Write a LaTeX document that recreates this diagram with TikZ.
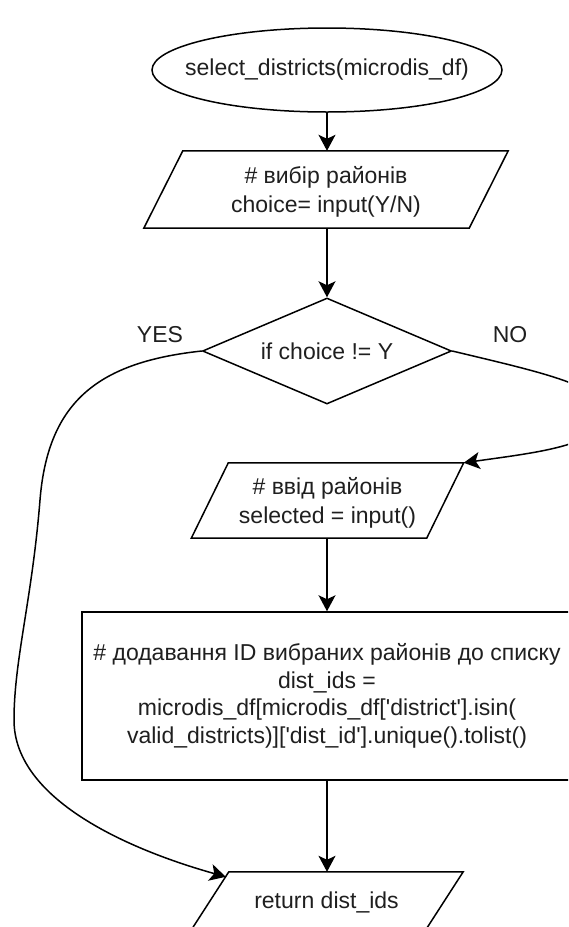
\documentclass[tikz,border=0pt]{standalone}
\usepackage{fontspec}
\setmainfont{Liberation Sans}
\usetikzlibrary{shapes.geometric,arrows.meta}
% slanted input/output frame drawn around a named rectangular node
\newcommand\ioframe[2]{%
  \draw[frame] ([xshift=#2]#1.north west) -- ([xshift=#2]#1.north east)
    -- ([xshift=-#2]#1.south east) -- ([xshift=-#2]#1.south west) -- cycle;}
\newcommand\sq{\textquotesingle}
\begin{document}
\begin{tikzpicture}[x=1pt,y=-1pt,
  frame/.style={line width=1.5pt, line join=miter, draw=black},
  txt/.style={font=\fontsize{23}{29}\selectfont, align=center, inner sep=0pt, text=black!88},
  arr/.style={line width=1.5pt, -{Stealth[length=16pt,width=17pt,inset=4pt]}},
  lbl/.style={font=\fontsize{23}{28}\selectfont, inner sep=0pt, text=black!88}]

\fill[white] (0,0) rectangle (568,927);
\useasboundingbox (0,0) rectangle (568,927);
\clip (0,0) rectangle (568,927);

% start terminal
\node[ellipse, frame, minimum width=350pt, minimum height=84pt, inner sep=0pt] (start) at (327,70) {};
\node[txt] (starttext) at (start.center) {select\_districts(microdis\_df)};

% choice input
\node[minimum width=325pt, minimum height=77pt, inner sep=0pt] (p1) at (326,189.5) {};
\ioframe{p1}{19.5pt}
\node[txt] (p1text) at ([yshift=-2.5pt]p1.center) {\# вибір районів\\choice= input(Y/N)};

% decision
\node[diamond, frame, txt, aspect=2.35, minimum width=249pt, minimum height=106pt] (dec) at (327,351)
  {if choice != Y};
\node[lbl] (yes) at (160,335) {YES};
\node[lbl] (no) at (510,335) {NO};

% district input
\node[minimum width=235pt, minimum height=75pt, inner sep=0pt] (p2) at (327.5,500.5) {};
\ioframe{p2}{18.5pt}
\node[txt] (p2text) at ([yshift=-2.5pt]p2.center) {\# ввід районів\\selected = input()};

% processing block
\node[rectangle, frame, txt, font=\fontsize{23}{27.5}\selectfont,
      minimum width=490pt, minimum height=168pt] (proc) at (327,696)
  {\# додавання ID вибраних районів до списку\\dist\_ids =\\
   microdis\_df[microdis\_df[\sq district\sq].isin(\\valid\_districts)][\sq dist\_id\sq].unique().tolist()};

% return output
\node[txt, minimum width=234pt, minimum height=60pt] (ret) at (326.5,902)
  {return dist\_ids};
\ioframe{ret}{19.5pt}

% flow
\draw[arr] (start.south) -- (start.south |- p1.north);
\draw[arr] (p1.south -| dec.north) -- (dec.north);
\draw[arr] (p2.south -| proc.north) -- (proc.north);
\draw[arr] (proc.south) -- (proc.south |- ret.north);

% YES branch
\draw[arr] (dec.west) .. controls (100,362) and (48,400) .. (40,500)
  .. controls (32,600) and (14,660) .. (14,720)
  .. controls (14,800) and (130,850) .. ([xshift=16.5pt,yshift=-5pt]ret.north west);

% NO branch
\draw[arr] (dec.east) .. controls (540,372) and (600,385) .. (605,410)
  .. controls (608,445) and (540,452) .. ([xshift=18.5pt]p2.north east);

\end{tikzpicture}
\end{document}
